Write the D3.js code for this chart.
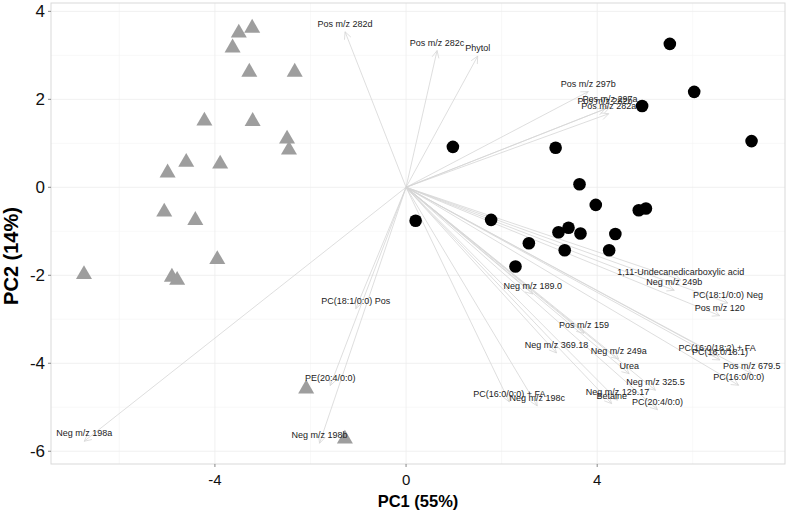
<!DOCTYPE html>
<html><head><meta charset="utf-8">
<script src="https://cdn.jsdelivr.net/npm/d3@7"></script>
<style>body{margin:0;background:#fff}svg{display:block}</style>
</head><body>
<script>
// Group 1 scores (grey triangles)
const triX = [-3.22,-3.50,-3.63,-3.28,-2.33,-4.22,-3.21,-2.49,-2.45,-4.60,-3.89,-4.99,-5.06,-4.41,-3.95,-6.74,-4.90,-4.79,-2.09,-1.28];
const triY = [3.62,3.51,3.17,2.62,2.62,1.51,1.50,1.10,0.85,0.57,0.53,0.33,-0.56,-0.75,-1.64,-1.98,-2.04,-2.11,-4.58,-5.72];
// Group 2 scores (black circles)
const cirX = [5.52,6.03,7.23,4.94,0.98,3.13,3.63,3.97,4.87,5.02,0.20,1.78,3.40,3.19,3.65,4.38,2.57,3.32,4.25,2.29];
const cirY = [3.26,2.17,1.05,1.85,0.92,0.90,0.07,-0.40,-0.52,-0.48,-0.76,-0.74,-0.92,-1.02,-1.05,-1.06,-1.27,-1.43,-1.43,-1.80];
// Variable loadings (arrows)
const varNames = ["Pos m/z 282d","Pos m/z 282c","Phytol","Pos m/z 297b","Pos m/z 297a","Pos m/z 282b","Pos m/z 282a",
  "1,11-Undecanedicarboxylic acid","Neg m/z 249b","PC(18:1/0:0) Neg","Pos m/z 120","Neg m/z 189.0","Pos m/z 159",
  "Neg m/z 369.18","Neg m/z 249a","PC(16:0/18:2) + FA","PC(16:0/18:1)","Urea","Pos m/z 679.5","PC(16:0/0:0)",
  "Neg m/z 325.5","PC(16:0/0:0) + FA","Neg m/z 198c","Neg m/z 129.17","Betaine","PC(20:4/0:0)",
  "PC(18:1/0:0) Pos","PE(20:4/0:0)","Neg m/z 198a","Neg m/z 198b"];
const varX = [-1.276,0.649,1.500,3.814,4.268,4.163,4.241,5.749,5.613,6.736,6.563,2.651,3.724,3.149,4.450,6.510,6.569,4.669,7.232,6.960,5.220,2.161,2.745,4.425,4.303,5.262,-1.052,-1.586,-6.736,-1.810];
const varY = [3.536,3.109,2.984,2.177,1.825,1.780,1.673,-2.107,-2.341,-2.630,-2.918,-2.425,-3.318,-3.766,-3.902,-3.827,-3.925,-4.236,-4.236,-4.500,-4.614,-4.880,-4.970,-4.841,-4.918,-5.055,-2.759,-4.509,-5.773,-5.818];
const xTicks = [-4,0,4];
const yTicks = [-6,-4,-2,0,2,4];
const xMinor = [-6,-2,2,6];
const yMinor = [-5,-3,-1,1,3];

const W = 787, H = 515;
const m = {l:51, r:2, t:3, b:51};
const svg = d3.select("body").append("svg").attr("width",W).attr("height",H);
const x = d3.scaleLinear().domain([-7.43,7.93]).range([m.l, W-m.r]);
const y = d3.scaleLinear().domain([-6.29,4.19]).range([H-m.b, m.t]);

// grid
const g = svg.append("g");
g.selectAll(".gxm").data(xMinor).join("line").attr("x1",d=>x(d)).attr("x2",d=>x(d)).attr("y1",m.t).attr("y2",H-m.b).attr("stroke","#f4f4f4").attr("stroke-width",0.6);
g.selectAll(".gym").data(yMinor).join("line").attr("y1",d=>y(d)).attr("y2",d=>y(d)).attr("x1",m.l).attr("x2",W-m.r).attr("stroke","#f4f4f4").attr("stroke-width",0.6);
g.selectAll(".gx").data(xTicks).join("line").attr("x1",d=>x(d)).attr("x2",d=>x(d)).attr("y1",m.t).attr("y2",H-m.b).attr("stroke","#ececec").attr("stroke-width",0.8);
g.selectAll(".gy").data(yTicks).join("line").attr("y1",d=>y(d)).attr("y2",d=>y(d)).attr("x1",m.l).attr("x2",W-m.r).attr("stroke","#ececec").attr("stroke-width",0.8);

// arrows
const arrows = varNames.map((n,i)=>({n, vx:varX[i], vy:varY[i]}));
const ag = svg.append("g").attr("stroke","#d6d6d6").attr("stroke-width",0.8).attr("fill","none");
arrows.forEach(d=>{
  const x0=x(0), y0=y(0), x1=x(d.vx), y1=y(d.vy);
  ag.append("line").attr("x1",x0).attr("y1",y0).attr("x2",x1).attr("y2",y1);
  const ang = Math.atan2(y1-y0, x1-x0), L=8, a=Math.PI/7;
  const p = d3.path();
  p.moveTo(x1-L*Math.cos(ang-a), y1-L*Math.sin(ang-a));
  p.lineTo(x1,y1);
  p.lineTo(x1-L*Math.cos(ang+a), y1-L*Math.sin(ang+a));
  ag.append("path").attr("d",p.toString());
});

// points
const tri = d3.symbol().type(d3.symbolTriangle).size(111);
svg.append("g").selectAll("path").data(triX.map((v,i)=>[v,triY[i]])).join("path")
  .attr("d",tri).attr("transform",d=>`translate(${x(d[0])},${y(d[1])})`).attr("fill","#9e9e9e");
svg.append("g").selectAll("circle").data(cirX.map((v,i)=>[v,cirY[i]])).join("circle")
  .attr("cx",d=>x(d[0])).attr("cy",d=>y(d[1])).attr("r",6.3).attr("fill","#000");

// labels
svg.append("g").selectAll("text").data(arrows).join("text")
  .attr("x",d=>x(d.vx)).attr("y",d=>y(d.vy)-8).attr("text-anchor","middle").attr("dominant-baseline","central")
  .attr("font-family","Liberation Sans, Arial, sans-serif").attr("font-size",9).attr("fill","#222").text(d=>d.n);

// panel border
svg.append("rect").attr("x",m.l).attr("y",m.t).attr("width",W-m.l-m.r).attr("height",H-m.t-m.b)
  .attr("fill","none").attr("stroke","#d9d9d9").attr("stroke-width",1);

// ticks
svg.append("g").selectAll("line").data(xTicks).join("line").attr("x1",d=>x(d)).attr("x2",d=>x(d)).attr("y1",H-m.b).attr("y2",H-m.b+3).attr("stroke","#888");
svg.append("g").selectAll("line").data(yTicks).join("line").attr("y1",d=>y(d)).attr("y2",d=>y(d)).attr("x1",m.l-3).attr("x2",m.l).attr("stroke","#888");
svg.append("g").selectAll("text").data(xTicks).join("text").attr("x",d=>x(d)).attr("y",485).attr("text-anchor","middle")
  .attr("font-family","Liberation Sans, Arial, sans-serif").attr("font-size",15).attr("fill","#111").text(d=>d);
svg.append("g").selectAll("text").data(yTicks).join("text").attr("x",45).attr("y",d=>y(d)).attr("text-anchor","end").attr("dominant-baseline","central")
  .attr("font-family","Liberation Sans, Arial, sans-serif").attr("font-size",17).attr("fill","#111").text(d=>d);

// axis titles
svg.append("text").attr("x",(m.l+W-m.r)/2).attr("y",507).attr("text-anchor","middle")
  .attr("font-family","Liberation Sans, Arial, sans-serif").attr("font-weight","bold").attr("font-size",16.5).attr("fill","#000").text("PC1 (55%)");
svg.append("text").attr("transform","translate(18,256) rotate(-90)").attr("text-anchor","middle")
  .attr("font-family","Liberation Sans, Arial, sans-serif").attr("font-weight","bold").attr("font-size",20).attr("fill","#000").text("PC2 (14%)");
</script>
</body></html>
